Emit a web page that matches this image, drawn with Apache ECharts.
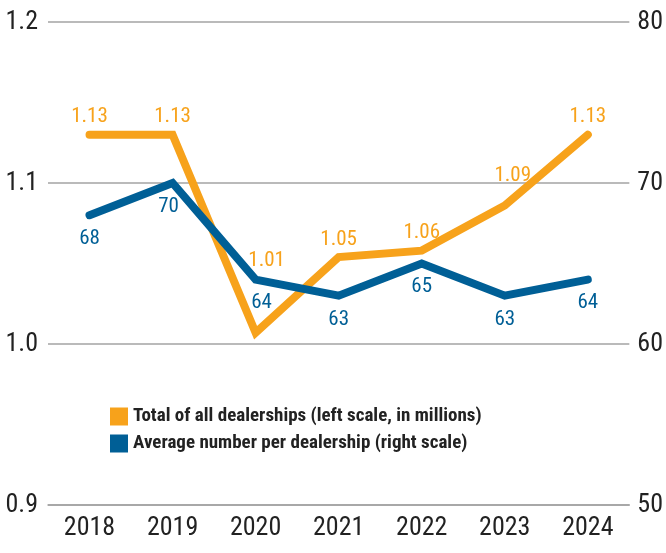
<!DOCTYPE html>
<html>
<head>
<meta charset="utf-8">
<script src="https://cdn.jsdelivr.net/npm/echarts@6/dist/echarts.min.js"></script>
<style>
    html, body { margin: 0; padding: 0; background: #fff; }
    #chart { width: 666px; height: 553px; }
</style>
</head>
<body>
<div id="chart"></div>
<script>
// chart data
const years = ['2018', '2019', '2020', '2021', '2022', '2023', '2024']
const totalDealerships = [1.13, 1.13, 1.007, 1.054, 1.058, 1.086, 1.13]
const avgPerDealership = [68, 70, 64, 63, 65, 63, 64]
const leftTicks = [0.9, 1.2, 0.1]
const rightTicks = [50, 80, 10]

const orange = '#F7A21B'
const blue = '#005F96'
const font = "'Liberation Sans Narrow', 'Roboto Condensed', 'Arial Narrow', sans-serif"

// a few labels are nudged off the line in the original
const orangeOffsets = { 2: [11, -54], 5: [8, -12] }
const blueOffsets = { 1: [-4, 0], 2: [6, 0] }

let withOffsets = (values, offsets) => values.map((v, i) => offsets[i]
    ? { value: v, label: { offset: offsets[i] } }
    : v)

let chart = echarts.init(document.getElementById('chart'))
chart.setOption({
    animation: false,
    textStyle: { fontFamily: font },
    grid: {
        left: 48,
        right: 34,
        top: 22,
        bottom: 48
    },
    legend: {
        orient: 'vertical',
        left: 105,
        top: 402,
        itemWidth: 18,
        itemHeight: 18,
        itemGap: 8,
        icon: 'rect',
        textStyle: {
            fontFamily: font,
            fontSize: 19,
            fontWeight: 'bold',
            color: '#222'
        },
        data: ['Total of all dealerships (left scale, in millions)', 'Average number per dealership (right scale)']
    },
    xAxis: {
        type: 'category',
        data: years,
        axisLine: { lineStyle: { color: '#a3a3a3', width: 1.5 } },
        axisTick: { alignWithLabel: true, length: 10, lineStyle: { color: '#a3a3a3', width: 1.5 } },
        axisLabel: { fontFamily: font, fontSize: 26, color: '#222', margin: 10 }
    },
    yAxis: [
        {
            type: 'value',
            min: leftTicks[0],
            max: leftTicks[1],
            interval: leftTicks[2],
            axisLine: { show: false },
            axisTick: { show: false },
            splitLine: { lineStyle: { color: '#a3a3a3', width: 1.5 } },
            axisLabel: {
                fontFamily: font, fontSize: 26, color: '#222', margin: 10,
                formatter: v => v.toFixed(1)
            }
        },
        {
            type: 'value',
            min: rightTicks[0],
            max: rightTicks[1],
            interval: rightTicks[2],
            axisLine: { show: false },
            axisTick: { show: false },
            splitLine: { show: false },
            axisLabel: { fontFamily: font, fontSize: 26, color: '#222', margin: 8 }
        }
    ],
    series: [
        {
            name: 'Total of all dealerships (left scale, in millions)',
            type: 'line',
            yAxisIndex: 0,
            z: 2,
            color: orange,
            symbol: 'circle',
            symbolSize: 0.1,
            showSymbol: true,
            lineStyle: { width: 8, color: orange, cap: 'round', join: 'miter' },
            label: {
                show: true,
                position: 'top',
                distance: 7,
                fontFamily: font,
                fontSize: 21,
                color: orange,
                formatter: p => p.value.toFixed(2)
            },
            data: withOffsets(totalDealerships, orangeOffsets)
        },
        {
            name: 'Average number per dealership (right scale)',
            type: 'line',
            yAxisIndex: 1,
            z: 3,
            color: blue,
            symbol: 'circle',
            symbolSize: 0.1,
            showSymbol: true,
            lineStyle: { width: 8, color: blue, cap: 'round', join: 'miter' },
            label: {
                show: true,
                position: 'bottom',
                distance: 13,
                fontFamily: font,
                fontSize: 21,
                color: blue
            },
            data: withOffsets(avgPerDealership, blueOffsets)
        }
    ]
}, true)
</script>
</body>
</html>
